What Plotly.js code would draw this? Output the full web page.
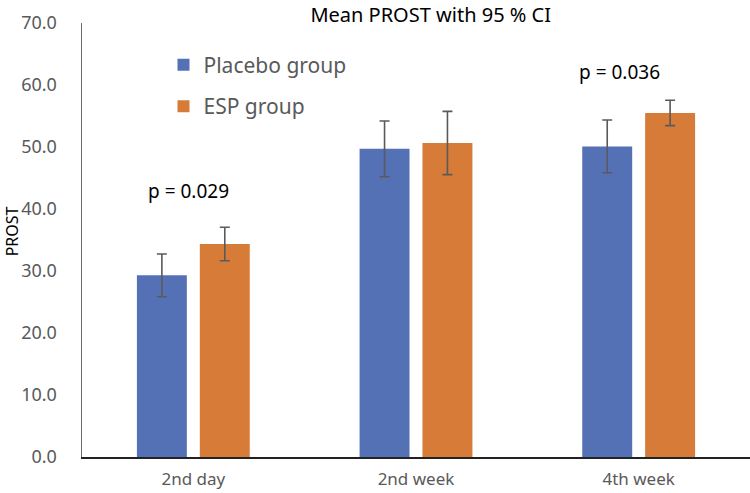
<!DOCTYPE html>
<html>
<head>
<meta charset="utf-8">
<script src="https://cdn.plot.ly/plotly-3.0.1.min.js"></script>
<style>html,body{margin:0;padding:0;background:#fff;}#chart{width:750px;height:493px;}</style>
</head>
<body>
<div id="chart"></div>
<script>
const categories = ['2nd day', '2nd week', '4th week'];
const placeboMean = [29.3, 49.7, 50.1];
const placeboCI = [3.45, 4.5, 4.25];
const espMean = [34.35, 50.65, 55.5];
const espCI = [2.7, 5.1, 2.05];
const pLabels = ['p = 0.029', '', 'p = 0.036'];
const pLabelY = [42.9, 0, 62.1];
const yTicks = [0, 10, 20, 30, 40, 50, 60, 70];

const FONT = 'Noto Sans, Open Sans, sans-serif';
const errStyle = {type: 'data', visible: true, color: '#5a5a5a', thickness: 1.6, width: 5};

const traces = [
  {type: 'bar', name: 'Placebo group', x: categories, y: placeboMean,
   marker: {color: '#5571B6'}, legendgroup: 'a',
   error_y: Object.assign({array: placeboCI}, errStyle)},
  {type: 'bar', name: 'ESP group', x: categories, y: espMean,
   marker: {color: '#D77B38'}, legendgroup: 'b',
   error_y: Object.assign({array: espCI}, errStyle)}
];

const annotations = [];
pLabels.forEach((t, i) => {
  if (!t) return;
  annotations.push({x: categories[i], y: pLabelY[i], xref: 'x', yref: 'y', text: t,
    showarrow: false, xshift: i === 0 ? -5 : -19,
    font: {family: FONT, size: 19, color: '#000'}});
});
annotations.push({x: (12 - 82) / 668, xref: 'paper', xanchor: 'center', y: 0.52, yref: 'paper', yanchor: 'middle',
  text: 'PROST', textangle: -90, showarrow: false, borderpad: 0,
  font: {family: FONT, size: 16, color: '#000'}});

const layout = {
  width: 750, height: 493,
  margin: {l: 82, r: 0, t: 23, b: 36},
  paper_bgcolor: '#fff', plot_bgcolor: '#fff',
  title: {text: 'Mean PROST with 95 % CI', xref: 'paper', x: 0.522, xanchor: 'center',
    yref: 'container', y: 0.97, yanchor: 'middle',
    font: {family: FONT, size: 20, color: '#000'}},
  barmode: 'group', bargap: 0.435, bargroupgap: 0.206,
  showlegend: true,
  legend: {x: 0.122, y: 0.95, xanchor: 'left', yanchor: 'top', traceorder: 'grouped',
    tracegroupgap: 11, bgcolor: 'rgba(0,0,0,0)',
    font: {family: FONT, size: 21, color: '#595959'}},
  xaxis: {type: 'category', showline: true, linecolor: '#222', linewidth: 1.5,
    showgrid: false, zeroline: false, ticks: '',
    tickfont: {family: FONT, size: 17, color: '#595959'},
    ticklabelstandoff: 6},
  yaxis: {range: [0, 70], tickvals: yTicks, ticktext: yTicks.map(v => v.toFixed(1)),
    showline: true, linecolor: '#6a6a6a', linewidth: 1.5, showgrid: false, zeroline: false,
    ticks: '', ticklabelstandoff: 20,
    tickfont: {family: FONT, size: 18, color: '#595959'}},
  annotations: annotations
};

Plotly.newPlot('chart', traces, layout, {displayModeBar: false, staticPlot: true});
</script>
</body>
</html>
